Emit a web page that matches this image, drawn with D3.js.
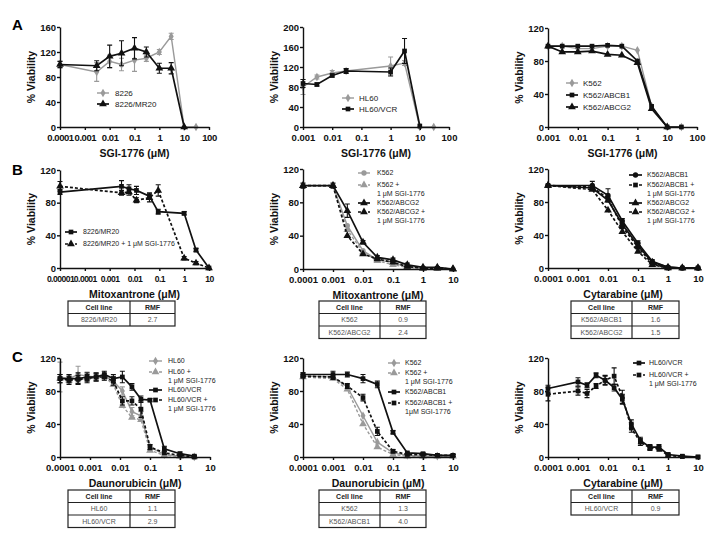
<!DOCTYPE html>
<html lang="en">
<head>
<meta charset="utf-8">
<title>SGI-1776 viability panels</title>
<script src="https://cdn.jsdelivr.net/npm/d3@7"></script>
<style>
  body { margin: 0; background: #fff; }
  svg text { font-family: "Liberation Sans", Arial, sans-serif; }
  .axis path, .axis line { stroke: #111; stroke-width: 1.4; }
  .axis text { font-size: 9.5px; font-weight: bold; fill: #111; }
  .tight .x-axis text { letter-spacing: -0.45px; }
  .tighter .x-axis text { letter-spacing: -0.55px; font-size: 8.6px; }
  .ttl { font-size: 10.5px; font-weight: bold; fill: #111; }
  .leg { font-size: 7px; fill: #222; }
  .tbl { font-size: 7px; fill: #555; }
  .tblh { font-size: 7px; font-weight: bold; fill: #222; }
</style>
</head>
<body>
<script>
// ---- data ----
// row A: SGI-1776 alone
var a1Dose = [0.0001, 0.003, 0.01, 0.03, 0.1, 0.3, 1, 3, 10, 30];
var a1_8226 = [100, 88, 105, 100, 107, 110, 120, 145, 0, 0];
var a1_8226Err = [5, 15, 10, 10, 18, 5, 4, 5, 0, 0];
var a1_MR20 = [100, 98, 113, 118, 126, 120, 94, 94, 0, null];
var a1_MR20Err = [5, 8, 18, 20, 17, 8, 8, 9, 0, 0];

var a2Dose = [0.001, 0.003, 0.01, 0.03, 1, 3, 10, 30];
var a2_HL60 = [80, 100, 108, 112, 122, 128, 0, 0];
var a2_HL60Err = [15, 4, 5, 4, 18, 5, 0, 0];
var a2_VCR = [87, 85, 103, 112, 110, 152, 2, null];
var a2_VCRErr = [8, 3, 3, 5, 8, 25, 0, 0];

var a3Dose = [0.001, 0.003, 0.01, 0.03, 0.1, 0.3, 1, 3, 10, 30];
var a3_K562 = [98, 98, 95, 95, 98, 98, 93, 25, 0, 0];
var a3_ABCB1 = [98, 98, 98, 98, 99, 98, 80, 25, 0, 0];
var a3_ABCG2 = [98, 91, 91, 92, 88, 87, 78, 22, 0, null];

// row B
var b1Dose = [0.00001, 0.003, 0.006, 0.012, 0.04, 0.09, 1, 3, 10];
var b1_MR20 = [93, 100, 97, 95, 88, 69, 67, 22, 0];
var b1_MR20Err = [3, 7, 5, 5, 4, 3, 2, 2, 0];
var b1_MR20Sgi = [100, 92, 93, 83, 86, 95, 12, 6, 0];
var b1_MR20SgiErr = [6, 3, 4, 3, 5, 7, 2, 2, 0];

var b2Dose = [0.0001, 0.001, 0.003, 0.01, 0.03, 0.1, 0.3, 1, 3, 10];
var b2_K562 = [100, 100, 52, 22, 11, 8, 2, 1, 1, 0];
var b2_K562Sgi = [100, 100, 47, 20, 10, 5, 2, 1, 1, 0];
var b2_ABCG2 = [100, 100, 70, 32, 14, 11, 5, 2, 2, 0];
var b2_ABCG2Err = [3, 3, 8, 2, 2, 2, 2, 1, 1, 0];
var b2_ABCG2Sgi = [100, 100, 40, 18, 12, 8, 3, 1, 1, 0];

var b3Dose = [0.0001, 0.003, 0.01, 0.03, 0.1, 0.3, 1, 3, 10];
var b3_ABCB1 = [100, 100, 88, 57, 30, 8, 1, 0, 0];
var b3_ABCB1Err = [0, 5, 8, 3, 3, 2, 1, 0, 0];
var b3_ABCB1Sgi = [100, 98, 84, 50, 25, 5, 0, 0, 0];
var b3_ABCG2 = [100, 97, 82, 53, 27, 7, 1, 0, 0];
var b3_ABCG2Sgi = [100, 95, 70, 44, 20, 4, 0, 0, 0];

// row C
var c1Dose = [0.0001, 0.0002, 0.0004, 0.0008, 0.0016, 0.003, 0.006, 0.012, 0.025, 0.05, 0.1, 0.3, 1, 3];
var c1_HL60 = [97, 95, 100, 98, 97, 98, 92, 80, 55, 50, 12, 3, 1, 0];
var c1_HL60Err = [18, 5, 10, 5, 5, 5, 6, 5, 5, 5, 3, 1, 1, 0];
var c1_HL60Sgi = [95, 93, 95, 96, 98, 97, 88, 62, 48, 45, 8, 2, 1, 0];
var c1_VCR = [95, 95, 95, 97, 97, 100, 95, 97, 85, 70, 69, 10, 4, 1];
var c1_VCRErr = [5, 5, 7, 5, 5, 4, 5, 7, 4, 4, 2, 3, 2, 1];
var c1_VCRSgi = [95, 93, 94, 95, 97, 97, 92, 68, 68, 58, 12, 5, 2, 0];
var c1_VCRSgiErr = [5, 5, 5, 5, 4, 4, 5, 5, 5, 10, 3, 2, 1, 0];

var c2Dose = [0.0001, 0.001, 0.003, 0.01, 0.03, 0.1, 0.3, 1, 3, 10];
var c2_K562 = [98, 97, 85, 50, 18, 5, 2, 1, 1, 1];
var c2_K562Sgi = [97, 95, 82, 40, 12, 3, 1, 1, 1, 1];
var c2_ABCB1 = [100, 100, 100, 95, 88, 30, 5, 4, 2, 2];
var c2_ABCB1Err = [2, 4, 3, 5, 4, 2, 1, 1, 1, 1];
var c2_ABCB1Sgi = [98, 97, 86, 72, 31, 7, 3, 3, 2, 2];
var c2_ABCB1SgiErr = [2, 3, 3, 4, 5, 2, 1, 1, 1, 1];

var c3Dose = [0.0001, 0.001, 0.002, 0.004, 0.008, 0.016, 0.03, 0.06, 0.12, 0.25, 0.5, 1, 3, 10];
var c3_VCR = [83, 91, 87, 99, 93, 84, 70, 40, 20, 12, 12, 3, 1, 0];
var c3_VCRErr = [4, 5, 3, 3, 6, 4, 6, 5, 4, 3, 3, 2, 1, 0];
var c3_VCRSgi = [76, 80, 77, 86, 93, 98, 73, 35, 18, 11, 10, 2, 0.5, 0];
var c3_VCRSgiErr = [8, 5, 5, 3, 5, 10, 8, 5, 4, 3, 3, 2, 1, 0];

// tick labels
var xTicksA1 = ["0.0001", "0.001", "0.01", "0.1", "1", "10", "100"];
var xTicksA23 = ["0.001", "0.01", "0.1", "1", "10", "100"];
var xTicksB1 = ["0.00001", "0.0001", "0.001", "0.01", "0.1", "1", "10"];
var xTicksRest = ["0.0001", "0.001", "0.01", "0.1", "1", "10"];

// RMF tables
var b1Cells = ["8226/MR20"], b1Rmf = ["2.7"];
var b2Cells = ["K562", "K562/ABCG2"], b2Rmf = ["0.9", "2.4"];
var b3Cells = ["K562/ABCB1", "K562/ABCG2"], b3Rmf = ["1.6", "1.5"];
var c1Cells = ["HL60", "HL60/VCR"], c1Rmf = ["1.1", "2.9"];
var c2Cells = ["K562", "K562/ABCB1"], c2Rmf = ["1.3", "4.0"];
var c3Cells = ["HL60/VCR"], c3Rmf = ["0.9"];

var BLACK = "#111", GRAY = "#9a9a9a";
var SGI = "1 \u03bcM SGI-1776";

var svg = d3.select("body").append("svg")
	.attr("width", 717)
	.attr("height", 542);

var symbols = {
	circle: d3.symbolCircle,
	square: d3.symbolSquare,
	triangle: d3.symbolTriangle,
	diamond: d3.symbolDiamond
};

function marker(g, type, cx, cy, color) {
	g.append("path")
		.attr("d", d3.symbol().type(symbols[type]).size(type == "triangle" ? 26 : 22)())
		.attr("transform", "translate(" + cx + "," + cy + ")")
		.attr("fill", color);
}

function drawPanel(p) {
	var x = d3.scaleLog().domain(p.xDomain).range([p.left, p.right]);
	var y = d3.scaleLinear().domain(p.yDomain).range([p.bottom, p.top]);
	var g = svg.append("g").attr("class", p.tight || null);

	// series
	p.series.forEach(function(s) {
		var pts = p.dose.map(function(d, i) {
			return {x: d, v: s.values[i], e: s.err ? s.err[i] : 0};
		}).filter(function(d) { return d.v != null; });

		var line = d3.line()
			.x(function(d) { return x(d.x); })
			.y(function(d) { return y(d.v); });

		g.append("path")
			.attr("d", line(pts))
			.attr("fill", "none")
			.attr("stroke", s.color)
			.attr("stroke-width", s.color == BLACK ? 1.7 : 1.4)
			.attr("stroke-dasharray", s.dashed ? "3,2" : null);

		pts.forEach(function(d) {
			if (d.e > 0) {
				var cx = x(d.x);
				g.append("path")
					.attr("d", "M" + cx + "," + y(d.v - d.e) + "V" + y(d.v + d.e) +
						"M" + (cx - 2.5) + "," + y(d.v + d.e) + "H" + (cx + 2.5) +
						"M" + (cx - 2.5) + "," + y(d.v - d.e) + "H" + (cx + 2.5))
					.attr("stroke", s.color)
					.attr("stroke-width", 1.1)
					.attr("fill", "none");
			}
			marker(g, s.marker, x(d.x), y(d.v), s.color);
		});
	});

	// axes
	g.append("g")
		.attr("class", "axis x-axis")
		.attr("transform", "translate(0," + p.bottom + ")")
		.call(d3.axisBottom(x)
			.tickValues(p.xLabels.map(Number))
			.tickFormat(function(d, i) { return p.xLabels[i]; })
			.tickSize(3).tickSizeOuter(0).tickPadding(4.5));

	g.append("g")
		.attr("class", "axis")
		.attr("transform", "translate(" + p.left + ",0)")
		.call(d3.axisLeft(y)
			.tickValues(p.yTicks)
			.tickSize(3).tickSizeOuter(0).tickPadding(1));

	g.append("text")
		.attr("class", "ttl")
		.attr("x", (p.left + p.right) / 2)
		.attr("y", p.bottom + 30)
		.attr("text-anchor", "middle")
		.text(p.xTitle);

	g.append("text")
		.attr("class", "ttl")
		.attr("transform", "translate(" + (p.left - 25) + "," + ((p.top + p.bottom) / 2) + ") rotate(-90)")
		.attr("text-anchor", "middle")
		.text("% Viability");

	// legend
	var lg = p.legend;
	p.series.forEach(function(s, i) {
		var ly = lg.y[i];
		g.append("line")
			.attr("x1", lg.x0).attr("x2", lg.x1)
			.attr("y1", ly).attr("y2", ly)
			.attr("stroke", s.color)
			.attr("stroke-width", s.color == BLACK ? 1.7 : 1.4)
			.attr("stroke-dasharray", s.dashed ? "3,2" : null);
		marker(g, s.marker, (lg.x0 + lg.x1) / 2, ly, s.color);
		s.label.forEach(function(t, j) {
			g.append("text")
				.attr("class", "leg")
				.attr("x", lg.tx)
				.attr("y", ly + j * 9)
				.attr("dy", "0.35em")
				.style("font-size", lg.size + "px")
				.text(t);
		});
	});

	// RMF table
	if (p.table) {
		var t = p.table, rh = 12.5;
		var rows = [["Cell line", "RMF"]].concat(t.cells.map(function(c, i) { return [c, t.rmf[i]]; }));
		var tg = g.append("g");
		tg.append("rect")
			.attr("x", t.x0).attr("y", t.top)
			.attr("width", t.x1 - t.x0).attr("height", rows.length * rh)
			.attr("fill", "none").attr("stroke", "#222").attr("stroke-width", 1.2);
		tg.append("line")
			.attr("x1", t.xm).attr("x2", t.xm)
			.attr("y1", t.top).attr("y2", t.top + rows.length * rh)
			.attr("stroke", "#222").attr("stroke-width", 1.2);
		rows.forEach(function(r, i) {
			if (i > 0) {
				tg.append("line")
					.attr("x1", t.x0).attr("x2", t.x1)
					.attr("y1", t.top + i * rh).attr("y2", t.top + i * rh)
					.attr("stroke", "#222").attr("stroke-width", 1.2);
			}
			var cls = i == 0 ? "tblh" : "tbl";
			tg.append("text").attr("class", cls)
				.attr("x", (t.x0 + t.xm) / 2).attr("y", t.top + i * rh + rh / 2)
				.attr("dy", "0.35em").attr("text-anchor", "middle").text(r[0]);
			tg.append("text").attr("class", cls)
				.attr("x", (t.xm + t.x1) / 2).attr("y", t.top + i * rh + rh / 2)
				.attr("dy", "0.35em").attr("text-anchor", "middle").text(r[1]);
		});
	}
}

var sgiTitle = "SGI-1776 (\u03bcM)";

drawPanel({
	left: 60, right: 209, top: 27, bottom: 127, tight: "tight",
	xDomain: [1e-4, 100], yDomain: [0, 160], yTicks: [0, 40, 80, 120, 160],
	xLabels: xTicksA1, xTitle: sgiTitle, dose: a1Dose,
	series: [
		{values: a1_8226, err: a1_8226Err, color: GRAY, marker: "diamond", label: ["8226"]},
		{values: a1_MR20, err: a1_MR20Err, color: BLACK, marker: "triangle", label: ["8226/MR20"]}
	],
	legend: {x0: 97, x1: 109, tx: 115, y: [93, 104], size: 8}
});

drawPanel({
	left: 303, right: 449, top: 27, bottom: 127,
	xDomain: [1e-3, 100], yDomain: [0, 200], yTicks: [0, 40, 80, 120, 160, 200],
	xLabels: xTicksA23, xTitle: sgiTitle, dose: a2Dose,
	series: [
		{values: a2_HL60, err: a2_HL60Err, color: GRAY, marker: "diamond", label: ["HL60"]},
		{values: a2_VCR, err: a2_VCRErr, color: BLACK, marker: "square", label: ["HL60/VCR"]}
	],
	legend: {x0: 342, x1: 354, tx: 359, y: [98, 109], size: 8}
});

drawPanel({
	left: 548, right: 697, top: 28, bottom: 127,
	xDomain: [1e-3, 100], yDomain: [0, 120], yTicks: [0, 40, 80, 120],
	xLabels: xTicksA23, xTitle: sgiTitle, dose: a3Dose,
	series: [
		{values: a3_K562, color: GRAY, marker: "diamond", label: ["K562"]},
		{values: a3_ABCB1, color: BLACK, marker: "square", label: ["K562/ABCB1"]},
		{values: a3_ABCG2, color: BLACK, marker: "triangle", label: ["K562/ABCG2"]}
	],
	legend: {x0: 566, x1: 578, tx: 583, y: [83, 95, 107], size: 8}
});

drawPanel({
	left: 60, right: 209, top: 170, bottom: 268, tight: "tighter",
	xDomain: [1e-5, 10], yDomain: [0, 120], yTicks: [0, 40, 80, 120],
	xLabels: xTicksB1, xTitle: "Mitoxantrone (\u03bcM)", dose: b1Dose,
	series: [
		{values: b1_MR20, err: b1_MR20Err, color: BLACK, marker: "square", label: ["8226/MR20"]},
		{values: b1_MR20Sgi, err: b1_MR20SgiErr, color: BLACK, marker: "triangle", dashed: true, label: ["8226/MR20 + " + SGI]}
	],
	legend: {x0: 65, x1: 77, tx: 83, y: [232, 244], size: 7},
	table: {x0: 68, xm: 130, x1: 175, top: 301, cells: b1Cells, rmf: b1Rmf}
});

drawPanel({
	left: 303, right: 453, top: 169, bottom: 269,
	xDomain: [1e-4, 10], yDomain: [0, 120], yTicks: [0, 40, 80, 120],
	xLabels: xTicksRest, xTitle: "Mitoxantrone (\u03bcM)", dose: b2Dose,
	series: [
		{values: b2_K562, color: GRAY, marker: "circle", label: ["K562"]},
		{values: b2_K562Sgi, color: GRAY, marker: "triangle", dashed: true, label: ["K562 +", SGI]},
		{values: b2_ABCG2, err: b2_ABCG2Err, color: BLACK, marker: "triangle", label: ["K562/ABCG2"]},
		{values: b2_ABCG2Sgi, color: BLACK, marker: "triangle", dashed: true, label: ["K562/ABCG2 +", SGI]}
	],
	legend: {x0: 358, x1: 370, tx: 377, y: [173, 185, 203, 212], size: 7},
	table: {x0: 319, xm: 380, x1: 426, top: 301, cells: b2Cells, rmf: b2Rmf}
});

drawPanel({
	left: 548, right: 698, top: 169, bottom: 268,
	xDomain: [1e-4, 10], yDomain: [0, 120], yTicks: [0, 40, 80, 120],
	xLabels: xTicksRest, xTitle: "Cytarabine (\u03bcM)", dose: b3Dose,
	series: [
		{values: b3_ABCB1, err: b3_ABCB1Err, color: BLACK, marker: "circle", label: ["K562/ABCB1"]},
		{values: b3_ABCB1Sgi, color: BLACK, marker: "square", dashed: true, label: ["K562/ABCB1 +", SGI]},
		{values: b3_ABCG2, color: BLACK, marker: "triangle", label: ["K562/ABCG2"]},
		{values: b3_ABCG2Sgi, color: BLACK, marker: "triangle", dashed: true, label: ["K562/ABCG2 +", SGI]}
	],
	legend: {x0: 629, x1: 642, tx: 647, y: [175, 185, 203, 212], size: 7},
	table: {x0: 571, xm: 632, x1: 679, top: 301, cells: b3Cells, rmf: b3Rmf}
});

drawPanel({
	left: 60, right: 210, top: 358, bottom: 457,
	xDomain: [1e-4, 10], yDomain: [0, 120], yTicks: [0, 40, 80, 120],
	xLabels: xTicksRest, xTitle: "Daunorubicin (\u03bcM)", dose: c1Dose,
	series: [
		{values: c1_HL60, err: c1_HL60Err, color: GRAY, marker: "diamond", label: ["HL60"]},
		{values: c1_HL60Sgi, color: GRAY, marker: "triangle", dashed: true, label: ["HL60 +", SGI]},
		{values: c1_VCR, err: c1_VCRErr, color: BLACK, marker: "square", label: ["HL60/VCR"]},
		{values: c1_VCRSgi, err: c1_VCRSgiErr, color: BLACK, marker: "square", dashed: true, label: ["HL60/VCR +", SGI]}
	],
	legend: {x0: 149, x1: 162, tx: 168, y: [361, 372, 390, 400], size: 7},
	table: {x0: 68, xm: 130, x1: 175, top: 490, cells: c1Cells, rmf: c1Rmf}
});

drawPanel({
	left: 303, right: 453, top: 358, bottom: 457,
	xDomain: [1e-4, 10], yDomain: [0, 120], yTicks: [0, 40, 80, 120],
	xLabels: xTicksRest, xTitle: "Daunorubicin (\u03bcM)", dose: c2Dose,
	series: [
		{values: c2_K562, color: GRAY, marker: "diamond", label: ["K562"]},
		{values: c2_K562Sgi, color: GRAY, marker: "triangle", dashed: true, label: ["K562 +", SGI]},
		{values: c2_ABCB1, err: c2_ABCB1Err, color: BLACK, marker: "square", label: ["K562/ABCB1"]},
		{values: c2_ABCB1Sgi, err: c2_ABCB1SgiErr, color: BLACK, marker: "square", dashed: true, label: ["K562/ABCB1 +", "1\u03bcM SGI-1776"]}
	],
	legend: {x0: 388, x1: 400, tx: 405, y: [363, 373, 392, 403], size: 7},
	table: {x0: 319, xm: 380, x1: 426, top: 490, cells: c2Cells, rmf: c2Rmf}
});

drawPanel({
	left: 548, right: 698, top: 358, bottom: 457,
	xDomain: [1e-4, 10], yDomain: [0, 120], yTicks: [0, 40, 80, 120],
	xLabels: xTicksRest, xTitle: "Cytarabine (\u03bcM)", dose: c3Dose,
	series: [
		{values: c3_VCR, err: c3_VCRErr, color: BLACK, marker: "square", label: ["HL60/VCR"]},
		{values: c3_VCRSgi, err: c3_VCRSgiErr, color: BLACK, marker: "square", dashed: true, label: ["HL60/VCR +", SGI]}
	],
	legend: {x0: 633, x1: 645, tx: 649, y: [363, 375], size: 7},
	table: {x0: 571, xm: 632, x1: 679, top: 490, cells: c3Cells, rmf: c3Rmf}
});

// panel letters
[["A", 12, 30], ["B", 12, 175], ["C", 12, 362]].forEach(function(l) {
	svg.append("text")
		.attr("x", l[1]).attr("y", l[2])
		.style("font-size", "15px").style("font-weight", "bold")
		.text(l[0]);
});
</script>
</body>
</html>
